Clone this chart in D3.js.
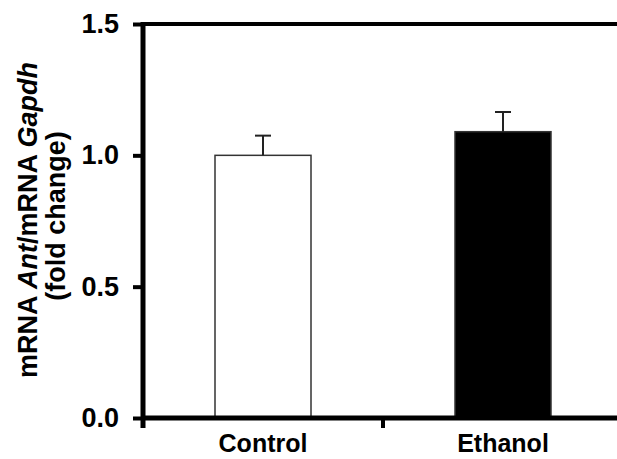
<!DOCTYPE html>
<html>
<head>
<meta charset="utf-8">
<script src="https://cdn.jsdelivr.net/npm/d3@7"></script>
<style>
  body { margin: 0; background: #fff; }
  text { font-family: "Liberation Sans", Arial, sans-serif; }
</style>
</head>
<body>
<div id="chart"></div>
<script>
// data
var groups = ["Control", "Ethanol"];
var means = [1.0, 1.09];
var errors = [0.075, 0.075];
var fills = ["#ffffff", "#000000"];
var yTicks = [0.0, 0.5, 1.0, 1.5];

var width = 617, height = 459;
var plotLeft = 143, plotTop = 24, plotBottom = 418;

var svg = d3.select("#chart")
  .append("svg")
    .attr("width", width)
    .attr("height", height);

var y = d3.scaleLinear()
  .domain([0, 1.5])
  .range([plotBottom, plotTop]);

var x = d3.scaleBand()
  .domain(groups)
  .range([plotLeft, plotLeft + 480])
  .paddingInner(0.6)
  .paddingOuter(0.3);

// bars
svg.selectAll("rect.bar")
  .data(groups)
  .enter().append("rect")
    .attr("class", "bar")
    .attr("x", function(d) { return x(d); })
    .attr("y", function(d, i) { return y(means[i]); })
    .attr("width", x.bandwidth())
    .attr("height", function(d, i) { return y(0) - y(means[i]); })
    .attr("fill", function(d, i) { return fills[i]; })
    .attr("stroke", "#333")
    .attr("stroke-width", 1.5);

// error bars
groups.forEach(function(g, i) {
  var cx = x(g) + x.bandwidth() / 2;
  svg.append("line")
    .attr("x1", cx).attr("x2", cx)
    .attr("y1", y(means[i])).attr("y2", y(means[i] + errors[i]))
    .attr("stroke", "#222").attr("stroke-width", 2);
  svg.append("line")
    .attr("x1", cx - 8).attr("x2", cx + 8)
    .attr("y1", y(means[i] + errors[i])).attr("y2", y(means[i] + errors[i]))
    .attr("stroke", "#222").attr("stroke-width", 2);
});

// y axis
var yAxis = svg.append("g")
  .attr("transform", "translate(" + plotLeft + ",0)")
  .call(d3.axisLeft(y).tickValues(yTicks).tickSize(10).tickPadding(14).tickFormat(d3.format(".1f")));
yAxis.select(".domain").remove();
yAxis.selectAll(".tick line").attr("stroke", "#000").attr("stroke-width", 4);
yAxis.selectAll(".tick text")
  .attr("fill", "#000")
  .style("font-size", "27px")
  .style("font-weight", "bold");

svg.append("line")
  .attr("x1", plotLeft).attr("x2", plotLeft)
  .attr("y1", plotTop - 2).attr("y2", plotBottom + 10)
  .attr("stroke", "#000").attr("stroke-width", 5);

// top border
svg.append("line")
  .attr("x1", plotLeft).attr("x2", width)
  .attr("y1", plotTop).attr("y2", plotTop)
  .attr("stroke", "#000").attr("stroke-width", 4);

// x axis
var xAxis = svg.append("g")
  .attr("transform", "translate(0," + plotBottom + ")")
  .call(d3.axisBottom(x).tickSize(0).tickPadding(16));
xAxis.select(".domain").remove();
xAxis.selectAll(".tick text")
  .attr("fill", "#000")
  .style("font-size", "25px")
  .style("font-weight", "bold");

svg.append("line")
  .attr("x1", plotLeft).attr("x2", width)
  .attr("y1", plotBottom).attr("y2", plotBottom)
  .attr("stroke", "#000").attr("stroke-width", 5);

// separator tick between groups
var sep = x(groups[0]) + x.bandwidth() + (x.step() - x.bandwidth()) / 2;
svg.append("line")
  .attr("x1", sep).attr("x2", sep)
  .attr("y1", plotBottom).attr("y2", plotBottom + 10)
  .attr("stroke", "#000").attr("stroke-width", 4);

// y label
var label = svg.append("text")
  .attr("transform", "translate(28,220) rotate(-90)")
  .attr("text-anchor", "middle")
  .style("font-size", "27px")
  .style("font-weight", "bold");
label.append("tspan").attr("x", 0).attr("dy", "0.35em").text("mRNA ");
label.append("tspan").style("font-style", "italic").text("Ant");
label.append("tspan").text("/mRNA ");
label.append("tspan").style("font-style", "italic").text("Gapdh");

svg.append("text")
  .attr("transform", "translate(56,216) rotate(-90)")
  .attr("text-anchor", "middle")
  .attr("dy", "0.35em")
  .style("font-size", "27px")
  .style("font-weight", "bold")
  .text("(fold change)");
</script>
</body>
</html>
